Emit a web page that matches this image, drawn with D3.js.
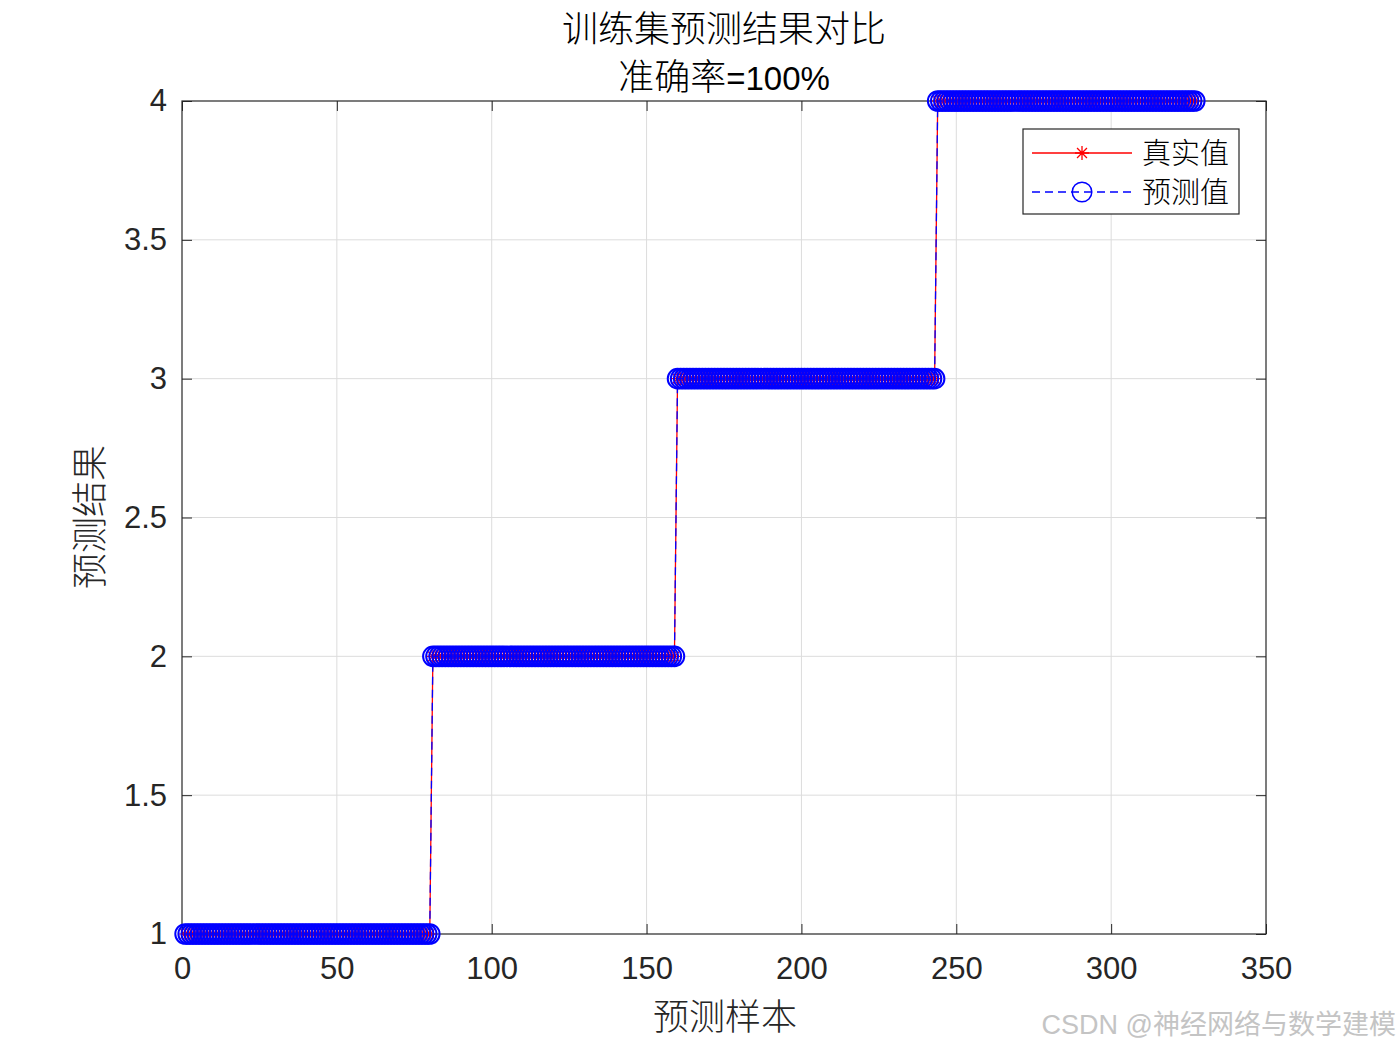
<!DOCTYPE html>
<html>
<head>
<meta charset="utf-8">
<script src="https://cdn.jsdelivr.net/npm/d3@7/dist/d3.min.js"></script>
<style>
  html, body { margin: 0; padding: 0; background: #fff; }
  svg { display: block; }
</style>
</head>
<body>
<svg id="chart" width="1400" height="1050"></svg>
<script>
// ---------------- DATA ----------------
const titleLine1 = "训练集预测结果对比";
const titleLine2CJK = "准确率";
const titleLine2Latin = "=100%";
const xLabel = "预测样本";
const yLabel = "预测结果";
const seriesNames = ["真实值", "预测值"];
const xTicks = [0, 50, 100, 150, 200, 250, 300, 350];
const yTicks = [1, 1.5, 2, 2.5, 3, 3.5, 4];
const yTickLabels = ["1", "1.5", "2", "2.5", "3", "3.5", "4"];

// true class labels of the training samples (in order)
const trueLabels = [
  1,1,1,1,1,1,1,1,1,1, 1,1,1,1,1,1,1,1,1,1,
  1,1,1,1,1,1,1,1,1,1, 1,1,1,1,1,1,1,1,1,1,
  1,1,1,1,1,1,1,1,1,1, 1,1,1,1,1,1,1,1,1,1,
  1,1,1,1,1,1,1,1,1,1, 1,1,1,1,1,1,1,1,1,1,
  2,2,2,2,2,2,2,2,2,2, 2,2,2,2,2,2,2,2,2,2,
  2,2,2,2,2,2,2,2,2,2, 2,2,2,2,2,2,2,2,2,2,
  2,2,2,2,2,2,2,2,2,2, 2,2,2,2,2,2,2,2,2,2,
  2,2,2,2,2,2,2,2,2,2, 2,2,2,2,2,2,2,2,2,
  3,3,3,3,3,3,3,3,3,3, 3,3,3,3,3,3,3,3,3,3,
  3,3,3,3,3,3,3,3,3,3, 3,3,3,3,3,3,3,3,3,3,
  3,3,3,3,3,3,3,3,3,3, 3,3,3,3,3,3,3,3,3,3,
  3,3,3,3,3,3,3,3,3,3, 3,3,3,3,3,3,3,3,3,3,
  3,3,3,3,
  4,4,4,4,4,4,4,4,4,4, 4,4,4,4,4,4,4,4,4,4,
  4,4,4,4,4,4,4,4,4,4, 4,4,4,4,4,4,4,4,4,4,
  4,4,4,4,4,4,4,4,4,4, 4,4,4,4,4,4,4,4,4,4,
  4,4,4,4,4,4,4,4,4,4, 4,4,4,4,4,4,4,4,4,4,
  4,4,4,4
];

// predicted class labels (accuracy 100%)
const predLabels = [
  1,1,1,1,1,1,1,1,1,1, 1,1,1,1,1,1,1,1,1,1,
  1,1,1,1,1,1,1,1,1,1, 1,1,1,1,1,1,1,1,1,1,
  1,1,1,1,1,1,1,1,1,1, 1,1,1,1,1,1,1,1,1,1,
  1,1,1,1,1,1,1,1,1,1, 1,1,1,1,1,1,1,1,1,1,
  2,2,2,2,2,2,2,2,2,2, 2,2,2,2,2,2,2,2,2,2,
  2,2,2,2,2,2,2,2,2,2, 2,2,2,2,2,2,2,2,2,2,
  2,2,2,2,2,2,2,2,2,2, 2,2,2,2,2,2,2,2,2,2,
  2,2,2,2,2,2,2,2,2,2, 2,2,2,2,2,2,2,2,2,
  3,3,3,3,3,3,3,3,3,3, 3,3,3,3,3,3,3,3,3,3,
  3,3,3,3,3,3,3,3,3,3, 3,3,3,3,3,3,3,3,3,3,
  3,3,3,3,3,3,3,3,3,3, 3,3,3,3,3,3,3,3,3,3,
  3,3,3,3,3,3,3,3,3,3, 3,3,3,3,3,3,3,3,3,3,
  3,3,3,3,
  4,4,4,4,4,4,4,4,4,4, 4,4,4,4,4,4,4,4,4,4,
  4,4,4,4,4,4,4,4,4,4, 4,4,4,4,4,4,4,4,4,4,
  4,4,4,4,4,4,4,4,4,4, 4,4,4,4,4,4,4,4,4,4,
  4,4,4,4,4,4,4,4,4,4, 4,4,4,4,4,4,4,4,4,4,
  4,4,4,4
];
const watermark = "CSDN @神经网络与数学建模";

// ---------------- DRAW ----------------
const svg = d3.select("#chart");
const L = 182, R = 1266, T = 101, B = 934;
const axisColor = "#262626";
const latinFont = "'Liberation Sans', Arial, 'Noto Sans CJK SC', sans-serif";
const cjkFont = "'Noto Sans CJK SC', 'Liberation Sans', sans-serif";

const x = d3.scaleLinear().domain([0, 350]).range([L, R]);
const y = d3.scaleLinear().domain([1, 4]).range([B, T]);

svg.append("rect").attr("width", 1400).attr("height", 1050).attr("fill", "#fff");

// grid
const grid = svg.append("g").attr("stroke", "#dcdcdc").attr("stroke-width", 1);
grid.selectAll(".gx").data(xTicks.filter(d => d > 0 && d < 350)).join("line")
  .attr("x1", d => x(d)).attr("x2", d => x(d)).attr("y1", T).attr("y2", B);
grid.selectAll(".gy").data(yTicks.filter(d => d > 1 && d < 4)).join("line")
  .attr("y1", d => y(d)).attr("y2", d => y(d)).attr("x1", L).attr("x2", R);

// axes
function styleAxis(g) {
  g.select(".domain").remove();
  g.selectAll(".tick line").attr("stroke", axisColor).attr("stroke-width", 1);
  g.selectAll(".tick text").attr("fill", axisColor).style("font-family", latinFont).style("font-size", "31px");
}
svg.append("g").attr("transform", `translate(0,${B})`)
  .call(d3.axisBottom(x).tickValues(xTicks).tickSize(-10).tickPadding(23).tickFormat(d3.format("d")))
  .call(styleAxis);
svg.append("g").attr("transform", `translate(0,${T})`)
  .call(d3.axisTop(x).tickValues(xTicks).tickSize(-10).tickFormat(""))
  .call(styleAxis);
svg.append("g").attr("transform", `translate(${L},0)`)
  .call(d3.axisLeft(y).tickValues(yTicks).tickSize(-10).tickPadding(15)
    .tickFormat((d, i) => yTickLabels[i]))
  .call(styleAxis);
svg.append("g").attr("transform", `translate(${R},0)`)
  .call(d3.axisRight(y).tickValues(yTicks).tickSize(-10).tickFormat(""))
  .call(styleAxis);

// frame
svg.append("rect").attr("x", L).attr("y", T).attr("width", R - L).attr("height", B - T)
  .attr("fill", "none").attr("stroke", axisColor).attr("stroke-width", 1.2);

const plot = svg.append("g");
const line = d3.line().x((d, i) => x(i + 1)).y(d => y(d));

function starPath(cx, cy, r) {
  const d = r * 0.7071;
  return `M${cx - r},${cy}L${cx + r},${cy}M${cx},${cy - r}L${cx},${cy + r}` +
         `M${cx - d},${cy - d}L${cx + d},${cy + d}M${cx - d},${cy + d}L${cx + d},${cy - d}`;
}

// true values: red solid with stars
plot.append("path").datum(trueLabels).attr("d", line)
  .attr("fill", "none").attr("stroke", "#ff0000").attr("stroke-width", 1.3);
plot.append("g").selectAll("path").data(trueLabels).join("path")
  .attr("d", (d, i) => starPath(x(i + 1), y(d), 6.5))
  .attr("stroke", "#ff0000").attr("stroke-width", 1.1).attr("fill", "none");

// predicted: blue dashed with circles
plot.append("path").datum(predLabels).attr("d", line)
  .attr("fill", "none").attr("stroke", "#0000ff").attr("stroke-width", 1.3)
  .attr("stroke-dasharray", "8,5");
plot.append("g").selectAll("circle").data(predLabels).join("circle")
  .attr("cx", (d, i) => x(i + 1)).attr("cy", d => y(d)).attr("r", 9.8)
  .attr("fill", "none").attr("stroke", "#0000ff").attr("stroke-width", 2);

// title
svg.append("text").attr("x", 724).attr("y", 42).attr("text-anchor", "middle")
  .attr("fill", "#000").style("font-family", cjkFont).style("font-size", "36px")
  .style("font-weight", "300").text(titleLine1);
const t2 = svg.append("text").attr("x", 724).attr("y", 90).attr("text-anchor", "middle").attr("fill", "#000");
t2.append("tspan").style("font-family", cjkFont).style("font-size", "36px").style("font-weight", "300").text(titleLine2CJK);
t2.append("tspan").style("font-family", latinFont).style("font-size", "33px").text(titleLine2Latin);

// axis labels
svg.append("text").attr("x", 725).attr("y", 1030).attr("text-anchor", "middle")
  .attr("fill", "#262626").style("font-family", cjkFont).style("font-size", "36px")
  .style("font-weight", "300").text(xLabel);
svg.append("text").attr("transform", "translate(103,517) rotate(-90)").attr("text-anchor", "middle")
  .attr("fill", "#262626").style("font-family", cjkFont).style("font-size", "36px")
  .style("font-weight", "300").text(yLabel);

// legend
const lg = svg.append("g");
lg.append("rect").attr("x", 1023).attr("y", 129).attr("width", 216).attr("height", 85)
  .attr("fill", "#fff").attr("stroke", axisColor).attr("stroke-width", 1.2);
const rows = [153, 192];
lg.append("line").attr("x1", 1032).attr("x2", 1132).attr("y1", rows[0]).attr("y2", rows[0])
  .attr("stroke", "#ff0000").attr("stroke-width", 1.3);
lg.append("path").attr("d", starPath(1082, rows[0], 7)).attr("stroke", "#ff0000").attr("stroke-width", 1.3);
lg.append("line").attr("x1", 1032).attr("x2", 1132).attr("y1", rows[1]).attr("y2", rows[1])
  .attr("stroke", "#0000ff").attr("stroke-width", 1.3).attr("stroke-dasharray", "8,5");
lg.append("circle").attr("cx", 1082).attr("cy", rows[1]).attr("r", 9.8)
  .attr("fill", "none").attr("stroke", "#0000ff").attr("stroke-width", 1.5);
lg.selectAll("text.lt").data(seriesNames).join("text")
  .attr("x", 1142).attr("y", (d, i) => rows[i] + 11)
  .attr("fill", "#000").style("font-family", cjkFont).style("font-size", "29px")
  .style("font-weight", "300").text(d => d);

// watermark
svg.append("text").attr("x", 1396).attr("y", 1034).attr("text-anchor", "end")
  .attr("fill", "#c4c4c4").style("font-family", latinFont).style("font-size", "27px").text(watermark);
</script>
</body>
</html>
